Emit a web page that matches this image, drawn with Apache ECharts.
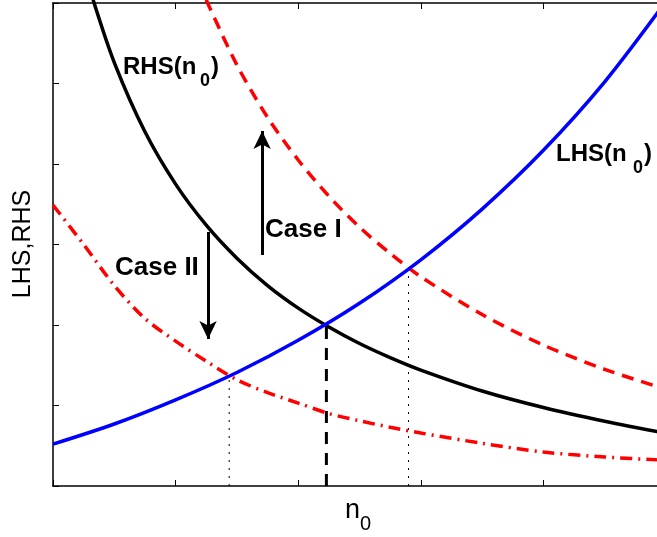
<!DOCTYPE html>
<html>
<head>
<meta charset="utf-8">
<script src="https://cdn.jsdelivr.net/npm/echarts@6/dist/echarts.min.js"></script>
<style>html,body{margin:0;padding:0;background:#fff;overflow:hidden;}#c{width:666px;height:537px;}</style>
</head>
<body>
<div id="c"></div>
<script>
// ---- data (x = n0, y = LHS/RHS) ----
const lhsX = [0, 0.5, 1.0, 1.5, 2.0, 2.5, 3.0, 3.5, 4.0, 4.5, 5.0];
const lhsY = [0.52, 0.77, 1.07, 1.41, 1.81, 2.27, 2.81, 3.44, 4.17, 5.02, 6.02];

const rhsX = [0.327, 0.5, 0.75, 1.0, 1.25, 1.5, 1.75, 2.0, 2.25, 2.5, 2.75, 3.0, 3.5, 4.0, 4.5, 5.0];
const rhsY = [6.04, 5.26, 4.40, 3.75, 3.24, 2.83, 2.49, 2.21, 1.975, 1.77, 1.595, 1.44, 1.18, 0.975, 0.805, 0.655];

const rhsUpX = [1.249, 1.5, 1.75, 2.0, 2.25, 2.5, 2.75, 3.0, 3.5, 4.0, 4.5, 5.0];
const rhsUpY = [6.04, 5.23, 4.58, 4.05, 3.60, 3.215, 2.89, 2.60, 2.13, 1.75, 1.45, 1.20];

const rhsDownX = [0, 0.25, 0.5, 0.75, 1.0, 1.25, 1.5, 1.75, 2.0, 2.25, 2.5, 2.75, 3.0, 3.5, 4.0, 4.5, 5.0];
const rhsDownY = [3.49, 3.0, 2.49, 2.08, 1.80, 1.55, 1.32, 1.16, 1.03, 0.90, 0.81, 0.73, 0.658, 0.53, 0.422, 0.36, 0.32];

// equilibrium points (dropped lines)
const eqBase = [2.23, 2.0];
const eqCaseI = [2.90, 2.71];
const eqCaseII = [1.437, 1.35];

// arrows [x, yFrom, yTo]
const arrowCaseI = [1.706, 2.87, 4.41];
const arrowCaseII = [1.265, 3.155, 1.826];

const xTicks = [0, 1, 2, 3, 4, 5];
const yTicks = [0, 1, 2, 3, 4, 5, 6];

const zip = (a, b) => a.map((v, i) => [v, b[i]]);
const FONT = '"Liberation Sans", Arial, Helvetica, sans-serif';

const chart = echarts.init(document.getElementById('c'), null, {renderer: 'canvas'});

const axisCommon = {
  axisLine: {show: true, onZero: false, lineStyle: {color: '#000', width: 1.5}},
  axisTick: {show: true, inside: true, length: 6, lineStyle: {color: '#000', width: 1}},
  axisLabel: {show: false},
  splitLine: {show: false}
};

function drop(p, dash, width) {
  return {
    type: 'line', data: [[p[0], 0], [p[0], p[1]]], symbol: 'none', silent: true,
    lineStyle: {color: '#000', width: width, type: dash}, z: 1, animation: false
  };
}

const option = {
  animation: false,
  backgroundColor: '#fff',
  grid: {left: 53, right: 0, top: 3, bottom: 51, containLabel: false},
  xAxis: [
    Object.assign({type: 'value', min: xTicks[0], max: xTicks[xTicks.length - 1], interval: 1, position: 'bottom'}, axisCommon),
    Object.assign({type: 'value', min: xTicks[0], max: xTicks[xTicks.length - 1], interval: 1, position: 'top'}, axisCommon)
  ],
  yAxis: [
    Object.assign({type: 'value', min: yTicks[0], max: yTicks[yTicks.length - 1], interval: 1, position: 'left'}, axisCommon),
    Object.assign({type: 'value', min: yTicks[0], max: yTicks[yTicks.length - 1], interval: 1, position: 'right'}, axisCommon)
  ],
  series: [
    drop(eqBase, [12, 9], 3),
    drop(eqCaseI, [2, 6], 1),
    drop(eqCaseII, [2, 6], 1),
    {type: 'line', data: zip(rhsDownX, rhsDownY), smooth: 0.3, symbol: 'none', clip: false,
     lineStyle: {color: '#ff0000', width: 3.5, type: [12, 6, 2, 6]}, z: 2},
    {type: 'line', data: zip(rhsUpX, rhsUpY), smooth: 0.3, symbol: 'none', clip: false,
     lineStyle: {color: '#ff0000', width: 3.5, type: [12, 8]}, z: 2},
    {type: 'line', data: zip(rhsX, rhsY), smooth: 0.3, symbol: 'none', clip: false,
     lineStyle: {color: '#000', width: 3.5}, z: 3},
    {type: 'line', data: zip(lhsX, lhsY), smooth: 0.3, symbol: 'none', clip: false,
     lineStyle: {color: '#0000ff', width: 3.5}, z: 3},
    {type: 'line', data: [], symbol: 'none',
     markLine: {
       silent: true, animation: false,
       symbol: ['none', 'arrow'], symbolSize: [13, 18],
       label: {show: false},
       lineStyle: {color: '#000', width: 3, type: 'solid'},
       data: [
         [{coord: [arrowCaseI[0], arrowCaseI[1]]}, {coord: [arrowCaseI[0], arrowCaseI[2]]}],
         [{coord: [arrowCaseII[0], arrowCaseII[1]]}, {coord: [arrowCaseII[0], arrowCaseII[2]]}]
       ]
     }}
  ],
  graphic: [
    {type: 'text', left: 123, top: 55, style: {text: 'RHS(n', font: 'bold 24px ' + FONT, fill: '#000'}},
    {type: 'text', left: 200, top: 72, style: {text: '0', font: 'bold 18px ' + FONT, fill: '#000'}},
    {type: 'text', left: 211, top: 55, style: {text: ')', font: 'bold 24px ' + FONT, fill: '#000'}},

    {type: 'text', left: 556, top: 142, style: {text: 'LHS(n', font: 'bold 24px ' + FONT, fill: '#000'}},
    {type: 'text', left: 633, top: 159, style: {text: '0', font: 'bold 18px ' + FONT, fill: '#000'}},
    {type: 'text', left: 644, top: 142, style: {text: ')', font: 'bold 24px ' + FONT, fill: '#000'}},

    {type: 'text', left: 265, top: 217, style: {text: 'Case I', font: 'bold 26px ' + FONT, fill: '#000'}},
    {type: 'text', left: 115, top: 255, style: {text: 'Case II', font: 'bold 26px ' + FONT, fill: '#000'}},

    {type: 'text', x: 23, y: 244, rotation: Math.PI / 2,
     style: {text: 'LHS,RHS', font: '25px ' + FONT, fill: '#000', align: 'center', verticalAlign: 'middle'}},
    {type: 'text', left: 345, top: 497, style: {text: 'n', font: '27px ' + FONT, fill: '#000'}},
    {type: 'text', left: 360, top: 514, style: {text: '0', font: '20px ' + FONT, fill: '#000'}}
  ]
};
chart.setOption(option);
</script>
</body>
</html>
